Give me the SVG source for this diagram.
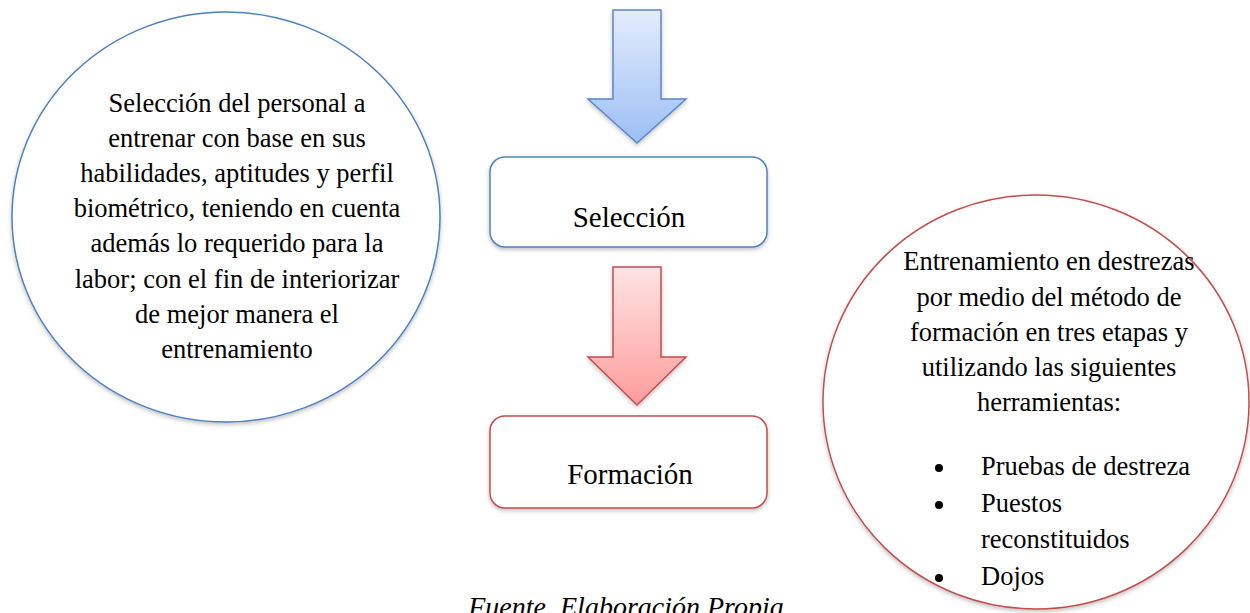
<svg xmlns="http://www.w3.org/2000/svg" width="1250" height="613" viewBox="0 0 1250 613" font-family="'Liberation Serif', 'DejaVu Serif', serif">
  <style>
    text { font-family: 'Liberation Serif', 'DejaVu Serif', serif; fill: #000; }
    .ct { font-size: 26.5px; text-anchor: middle; }
    .bt { font-size: 29px; text-anchor: middle; }
    .lt { font-size: 26.5px; }
  </style>
  <defs>
    <linearGradient id="gBlue" x1="0" y1="0" x2="0" y2="1">
      <stop offset="0" stop-color="#e3ecfc"/>
      <stop offset="1" stop-color="#9cbff5"/>
    </linearGradient>
    <linearGradient id="gRed" x1="0" y1="0" x2="0" y2="1">
      <stop offset="0" stop-color="#ffe3e3"/>
      <stop offset="1" stop-color="#ff9c9c"/>
    </linearGradient>
    <filter id="sh" x="-10%" y="-10%" width="120%" height="120%">
      <feDropShadow dx="0" dy="2" stdDeviation="2" flood-color="#000" flood-opacity="0.25"/>
    </filter>
  </defs>

  <g id="connectors">
    <line x1="439" y1="199" x2="490" y2="199" stroke="#4f81bd" stroke-width="5" filter="url(#sh)"/>
    <line x1="770" y1="470" x2="822" y2="470" stroke="#c0504d" stroke-width="5" filter="url(#sh)"/>
  </g>

  <g id="arrow-blue">
    <polygon points="613,10 661,10 661,99 686,99 637,143 588,99 613,99" fill="url(#gBlue)" stroke="#5b87c6" stroke-width="1.5" filter="url(#sh)"/>
  </g>

  <g id="arrow-red">
    <polygon points="613,267 661,267 661,357 686,357 637,405 588,357 613,357" fill="url(#gRed)" stroke="#c0504d" stroke-width="1.5" filter="url(#sh)"/>
  </g>

  <g id="node-circle-left">
    <ellipse cx="226" cy="217" rx="214" ry="205" fill="#fff" stroke="#4f81bd" stroke-width="1.5" filter="url(#sh)"/>
    <text class="ct" x="237" y="112">Selección del personal a</text>
    <text class="ct" x="237" y="147">entrenar con base en sus</text>
    <text class="ct" x="237" y="182">habilidades, aptitudes y perfil</text>
    <text class="ct" x="237" y="217">biométrico, teniendo en cuenta</text>
    <text class="ct" x="237" y="252">además lo requerido para la</text>
    <text class="ct" x="237" y="288">labor; con el fin de interiorizar</text>
    <text class="ct" x="237" y="323">de mejor manera el</text>
    <text class="ct" x="237" y="358">entrenamiento</text>
  </g>

  <g id="node-seleccion">
    <rect x="490" y="157" width="277" height="90" rx="15" ry="15" fill="#fff" stroke="#4f81bd" stroke-width="1.5" filter="url(#sh)"/>
    <text class="bt" x="629" y="227">Selección</text>
  </g>

  <g id="node-formacion">
    <rect x="490" y="416" width="277" height="92" rx="15" ry="15" fill="#fff" stroke="#c0504d" stroke-width="1.5" filter="url(#sh)"/>
    <text class="bt" x="630" y="484">Formación</text>
  </g>

  <g id="node-circle-right">
    <ellipse cx="1036" cy="402" rx="213" ry="207" fill="#fff" stroke="#c0504d" stroke-width="1.5" filter="url(#sh)"/>
    <text class="ct" x="1049" y="270">Entrenamiento en destrezas</text>
    <text class="ct" x="1049" y="306">por medio del método de</text>
    <text class="ct" x="1049" y="341">formación en tres etapas y</text>
    <text class="ct" x="1049" y="376">utilizando las siguientes</text>
    <text class="ct" x="1049" y="411">herramientas:</text>
    <circle cx="939" cy="468" r="4" fill="#000"/>
    <text class="lt" x="981" y="475">Pruebas de destreza</text>
    <circle cx="939" cy="505" r="4" fill="#000"/>
    <text class="lt" x="981" y="512">Puestos</text>
    <text class="lt" x="981" y="548">reconstituidos</text>
    <circle cx="939" cy="578" r="4" fill="#000"/>
    <text class="lt" x="981" y="585">Dojos</text>
  </g>

  <g id="caption">
    <text x="626" y="616" font-size="28" font-style="italic" text-anchor="middle">Fuente. Elaboración Propia</text>
  </g>
</svg>
